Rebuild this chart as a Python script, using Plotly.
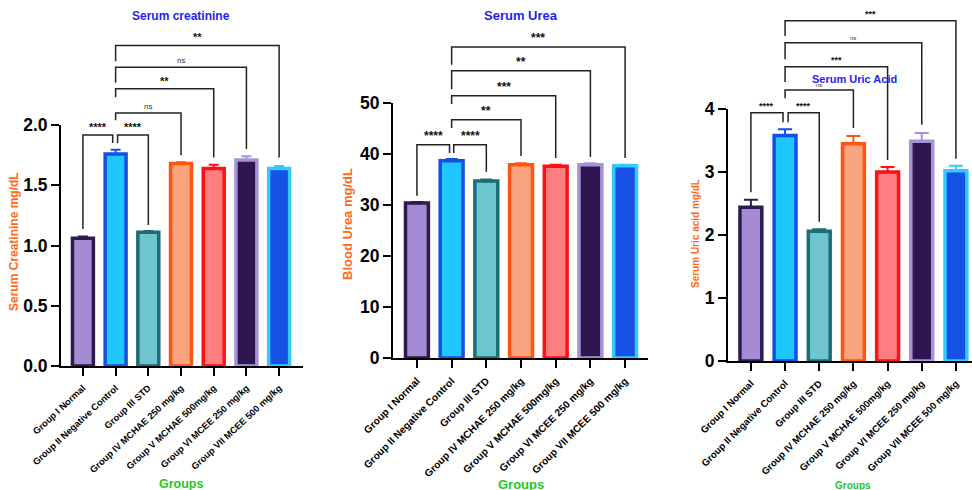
import plotly.graph_objects as go

# ---------------- data ----------------
groups = ["Group I Normal", "Group II Negative Control", "Group III STD",
          "Group IV MCHAE 250 mg/kg", "Group V MCHAE 500mg/kg",
          "Group VI MCEE 250 mg/kg", "Group VII MCEE 500 mg/kg"]

creat_mean = [1.06, 1.76, 1.11, 1.68, 1.64, 1.71, 1.64]
creat_err = [0.015, 0.035, 0.01, 0.01, 0.03, 0.03, 0.02]

urea_mean = [30.4, 38.7, 34.7, 37.9, 37.6, 37.9, 37.7]
urea_err = [0.2, 0.3, 0.3, 0.3, 0.3, 0.3, 0.2]

uric_mean = [2.44, 3.58, 2.06, 3.45, 3.00, 3.49, 3.02]
uric_err = [0.12, 0.10, 0.03, 0.12, 0.08, 0.13, 0.08]

creat_ticks = [0, 0.5, 1.0, 1.5, 2.0]
urea_ticks = [0, 10, 20, 30, 40, 50]
uric_ticks = [0, 1, 2, 3, 4]

# significance comparisons vs Group II (index 1)
pairs = [(0, 1), (1, 2), (1, 3), (1, 4), (1, 5), (1, 6)]
creat_sig = ["****", "****", "ns", "**", "ns", "**"]
urea_sig = ["****", "****", "**", "***", "**", "***"]
uric_sig = ["****", "****", "ns", "***", "ns", "***"]

# bracket geometry (data units): level, left drop end, right drop end
creat_br = [(1.917, 1.137, 1.85), (1.917, 1.85, 1.17), (2.10, 2.04, 1.75),
            (2.30, 2.23, 1.73), (2.48, 2.35, 1.80), (2.66, 2.53, 1.73)]
urea_br = [(41.8, 31.8, 40.2), (41.8, 40.2, 36.5), (46.7, 45.1, 39.6),
           (51.4, 49.8, 39.2), (56.3, 52.7, 39.4), (61.0, 57.5, 39.2)]
uric_br = [(3.94, 2.68, 3.79), (3.94, 3.79, 2.21), (4.30, 4.17, 3.70),
           (4.67, 4.43, 3.19), (5.05, 4.79, 3.75), (5.40, 5.16, 3.21)]

fills = ["#A48BD3", "#1FC7FE", "#6EC5CD", "#F9A47E", "#FF7E80", "#2E1650", "#1551E2"]
borders = ["#2E1A4F", "#1351E3", "#1C6E76", "#FF5511", "#FF0F16", "#A892D6", "#35CAFF"]

W, H = 972, 490
FONT = "Liberation Sans, Arial, sans-serif"
TITLE_BLUE = "#1F1FF5"
ORANGE = "#FF6A1A"
GREEN = "#1EC81E"

panels = [
    dict(mean=creat_mean, err=creat_err, ticks=creat_ticks, fmt=".1f", sig=creat_sig, br=creat_br,
         xpx=(61, 303), xr=(-0.67, 6.73), y0=366, ppu=120.5, bw=0.64, capw=5,
         title="Serum creatinine", tpos=(181, 16), tsize=12,
         ytitle="Serum Creatinine mg/dL", ytpos=(14, 242), ytsize=12,
         gpos=(181, 484), gsize=12.5, xtsize=9.3, xtangle=-43, sigsize=11, nssize=8,
         off_l=0.06, off_r=-0.09),
    dict(mean=urea_mean, err=urea_err, ticks=urea_ticks, fmt="d", sig=urea_sig, br=urea_br,
         xpx=(393, 648), xr=(-0.69, 6.66), y0=358, ppu=5.1, bw=0.66, capw=6,
         title="Serum Urea", tpos=(521, 16), tsize=13,
         ytitle="Blood Urea mg/dL", ytpos=(348, 224), ytsize=13,
         gpos=(521, 484), gsize=13, xtsize=10.2, xtangle=-45, sigsize=12, nssize=9,
         off_l=0.06, off_r=-0.06),
    dict(mean=uric_mean, err=uric_err, ticks=uric_ticks, fmt="d", sig=uric_sig, br=uric_br,
         xpx=(728, 972), xr=(-0.67, 6.47), y0=361, ppu=63.0, bw=0.64, capw=7,
         title="Serum Uric Acid", tpos=(854, 79), tsize=11,
         ytitle="Serum Uric acid mg/dL", ytpos=(696, 234), ytsize=10,
         gpos=(853, 485), gsize=10, xtsize=9.7, xtangle=-45, sigsize=9, nssize=6,
         off_l=0.09, off_r=-0.06),
]

fig = go.Figure()
layout = dict(width=W, height=H, margin=dict(l=0, r=0, t=0, b=0, autoexpand=False),
              paper_bgcolor="white", plot_bgcolor="rgba(0,0,0,0)", showlegend=False,
              barmode="overlay", font=dict(family=FONT, color="black"))
annotations = []

for i, p in enumerate(panels):
    n = i + 1
    xa = "x" if n == 1 else f"x{n}"
    ya = "y" if n == 1 else f"y{n}"
    yb = f"y{n + 3}"
    top_val = max(p["ticks"])
    y_dom_bot = 1 - p["y0"] / H
    y_dom_top = 1 - (p["y0"] - top_val * p["ppu"]) / H
    full_top_val = p["y0"] / p["ppu"]

    layout[f"xaxis{'' if n == 1 else n}"] = dict(
        domain=[p["xpx"][0] / W, p["xpx"][1] / W], range=list(p["xr"]), anchor=ya,
        automargin=False, ticklabelstandoff=3,
        tickmode="array", tickvals=list(range(len(groups))), ticktext=groups,
        tickangle=p["xtangle"], showline=True, linecolor="black", linewidth=2,
        ticks="outside", ticklen=8, tickwidth=2, tickcolor="black",
        showgrid=False, zeroline=False, fixedrange=True,
        tickfont=dict(family=FONT, size=p["xtsize"], color="black", weight="bold"))
    layout[f"yaxis{'' if n == 1 else n}"] = dict(
        domain=[y_dom_bot, y_dom_top], range=[0, top_val], anchor=xa,
        automargin=False,
        tickmode="array", tickvals=p["ticks"], tickformat=p["fmt"],
        showline=True, linecolor="black", linewidth=2,
        ticks="outside", ticklen=8, tickwidth=2, tickcolor="black",
        showgrid=False, zeroline=False, fixedrange=True,
        tickfont=dict(family=FONT, size=17.5, color="black", weight="bold"))
    layout[f"yaxis{n + 3}"] = dict(
        domain=[y_dom_bot, 1], range=[0, full_top_val], anchor=xa,
        automargin=False,
        visible=False, fixedrange=True, showgrid=False, zeroline=False)

    # bars
    for k, g in enumerate(groups):
        fig.add_trace(go.Bar(
            x=[k], y=[p["mean"][k]], width=p["bw"], xaxis=xa, yaxis=ya,
            marker=dict(color=fills[k], line=dict(color=borders[k], width=3.5)),
            error_y=dict(type="data", array=[p["err"][k]], arrayminus=[0], symmetric=False,
                         color=borders[k], thickness=2, width=p["capw"]),
            hoverinfo="skip", name=g))

    # significance brackets
    for (a, b), lab, (lvl, lend, rend) in zip(pairs, p["sig"], p["br"]):
        xl = a + (p["off_l"] if (a == 1 and b == 2) else 0)
        xr_ = b + (p["off_r"] if (a == 0 and b == 1) else 0)
        fig.add_trace(go.Scatter(
            x=[xl, xl, xr_, xr_], y=[lend, lvl, lvl, rend], mode="lines",
            line=dict(color="#222222", width=1.5), xaxis=xa, yaxis=yb,
            hoverinfo="skip", cliponaxis=False))
        annotations.append(dict(
            x=(xl + xr_) / 2, y=lvl, xref=xa, yref=yb, text=lab, showarrow=False,
            yanchor="bottom", yshift=0,
            font=dict(family=FONT, size=p["nssize"] if lab == "ns" else p["sigsize"],
                      color="#111111" if lab != "ns" else "#333333",
                      weight="normal" if lab == "ns" else "bold")))

    # titles
    annotations.append(dict(
        x=p["tpos"][0] / W, y=1 - p["tpos"][1] / H, xref="paper", yref="paper",
        text=p["title"], showarrow=False, xanchor="center", yanchor="middle",
        font=dict(family=FONT, size=p["tsize"], color=TITLE_BLUE, weight="bold")))
    annotations.append(dict(
        x=p["ytpos"][0] / W, y=1 - p["ytpos"][1] / H, xref="paper", yref="paper",
        text=p["ytitle"], showarrow=False, textangle=-90, xanchor="center", yanchor="middle",
        font=dict(family=FONT, size=p["ytsize"], color=ORANGE, weight="bold")))
    annotations.append(dict(
        x=p["gpos"][0] / W, y=1 - p["gpos"][1] / H, xref="paper", yref="paper",
        text="Groups", showarrow=False, xanchor="center", yanchor="middle",
        font=dict(family=FONT, size=p["gsize"], color=GREEN, weight="bold")))

layout["annotations"] = annotations
fig.update_layout(**layout)
fig.write_html(
    "out.html",
    config={"displayModeBar": False, "staticPlot": True},
    post_script="document.body.style.margin='0';document.body.style.padding='0';"
                "document.body.style.overflow='hidden';",
)
